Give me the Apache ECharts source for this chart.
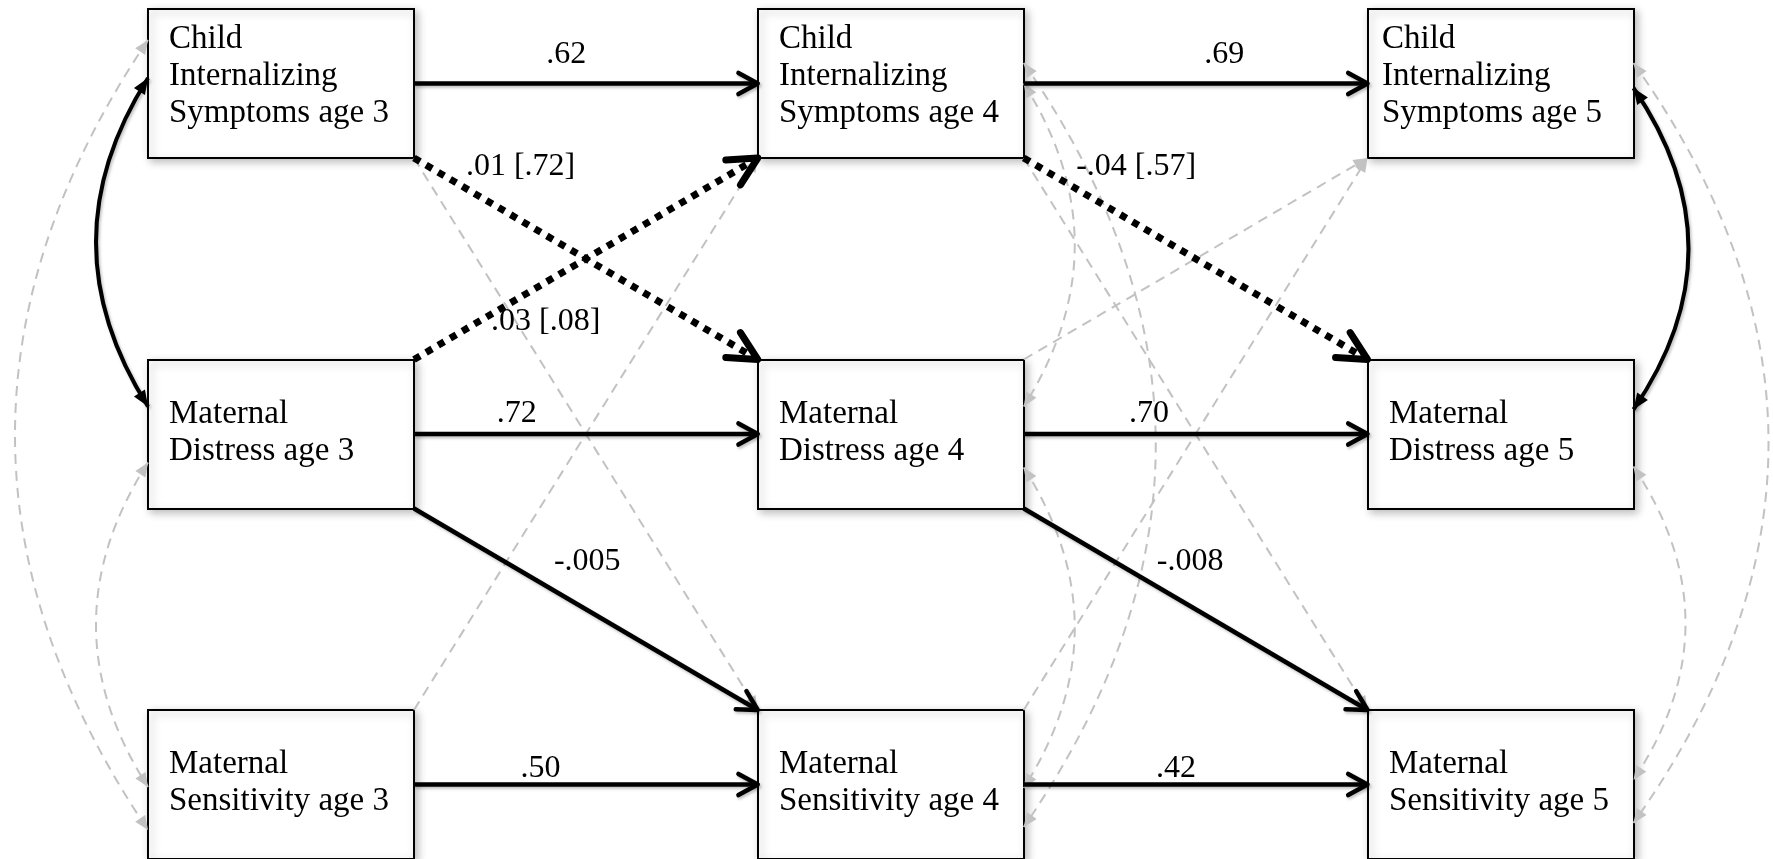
<!DOCTYPE html>
<html>
<head>
<meta charset="utf-8">
<script src="https://cdn.jsdelivr.net/npm/echarts@6/dist/echarts.min.js"></script>
<style>
html,body{margin:0;padding:0;background:#fff;}
#chart{width:1773px;height:859px;}
</style>
</head>
<body>
<div id="chart"></div>
<script>
// ================= DATA =================
const ages = [3, 4, 5];
const constructKeys = ['C', 'M', 'S'];
const constructLines = [
  ['Child', 'Internalizing', 'Symptoms age {age}'],
  ['Maternal', 'Distress age {age}'],
  ['Maternal', 'Sensitivity age {age}']
];
// directed paths
const pathFrom = ['C3','C4','M3','M4','S3','S4','M3','M4','C3','M3','C4','C3','S3','M4','S4','C4'];
const pathTo   = ['C4','C5','M4','M5','S4','S5','S4','S5','M4','C4','M5','S4','C4','C5','C5','S5'];
const pathCoef = ['.62','.69','.72','.70','.50','.42','-.005','-.008','.01 [.72]','.03 [.08]','-.04 [.57]','','','','',''];
const pathKind = ['sig','sig','sig','sig','sig','sig','sig','sig','trend','trend','trend','ns','ns','ns','ns','ns'];
// within-time covariances (double-headed)
const covA    = ['C3','C3','M3','C4','C4','M4','C5','C5','M5'];
const covB    = ['M3','S3','S3','M4','S4','S4','M5','S5','S5'];
const covKind = ['sig','ns','ns','ns','ns','ns','sig','ns','ns'];

// ================= LAYOUT / STYLE =================
const BOX_W = 266, BOX_H = 149;
const TEXT_INSET = 21;
const textInsetOverride = { C5: 14 };
// label placement along each path: [fraction along path, vertical offset px]
const pathLabelAt = [[0.443,-29],[0.583,-29],[0.299,-20],[0.364,-20],[0.368,-16],[0.443,-16],
  [0.504,-48],[0.484,-44],[0.31,-54],[0.383,39],[0.327,-57],null,null,null,null,null];
// covariance curve shape: [attach offset at A, attach offset at B, bulge px]
const covShape = [[-5.5,-27.5,52],[-43.5,45.5,133],[28.5,2.5,52],
                  [0,-27.5,51],[-20.5,42.5,132],[33.5,3.5,51],
                  [4.5,-24.5,55],[-20.5,38.5,135],[32.5,-4.5,52]];
const FONT_NODE = '33px "Liberation Serif", "DejaVu Serif", serif';
const FONT_LABEL = '32px "Liberation Serif", "DejaVu Serif", serif';
const GRAY = '#c2c2c2';

function parseId(id) {
  return [ages.indexOf(+id.slice(1)), constructKeys.indexOf(id[0])];
}

// node data: [ageIndex, constructIndex]
const nodeData = [];
const nodeIds = [];
constructKeys.forEach((k, r) => ages.forEach((a, c) => { nodeData.push([c, r]); nodeIds.push(k + a); }));

const pathData = pathFrom.map((f, i) => { const a = parseId(f), b = parseId(pathTo[i]); return [a[0], a[1], b[0], b[1]]; });
const covData = covA.map((f, i) => { const a = parseId(f), b = parseId(covB[i]); return [a[0], a[1], b[0], b[1]]; });

function unit(dx, dy) { const l = Math.hypot(dx, dy) || 1; return [dx / l, dy / l]; }
function openHead(tip, dir, len, ang) {
  const bx = -dir[0], by = -dir[1];
  const c = Math.cos(ang), s = Math.sin(ang);
  return [
    [tip[0] + len * (bx * c - by * s), tip[1] + len * (bx * s + by * c)],
    tip,
    [tip[0] + len * (bx * c + by * s), tip[1] + len * (-bx * s + by * c)]
  ];
}
function filledHead(tip, dir, len, half) {
  const base = [tip[0] - dir[0] * len, tip[1] - dir[1] * len];
  const n = [-dir[1], dir[0]];
  return [tip, [base[0] + n[0] * half, base[1] + n[1] * half], [base[0] - n[0] * half, base[1] - n[1] * half]];
}

function renderNode(params, api) {
  const i = params.dataIndex;
  const c = api.coord([api.value(0), api.value(1)]);
  const r = api.value(1);
  const lines = constructLines[r].map(s => s.replace('{age}', ages[api.value(0)]));
  const x0 = Math.round(c[0] - BOX_W / 2), y0 = Math.round(c[1] - BOX_H / 2);
  const inset = textInsetOverride[nodeIds[i]] != null ? textInsetOverride[nodeIds[i]] : TEXT_INSET;
  return {
    type: 'group',
    children: [
      { type: 'rect', shape: { x: x0, y: y0, width: BOX_W, height: BOX_H },
        style: { fill: '#fff', stroke: '#000', lineWidth: 2,
                 shadowBlur: 8, shadowOffsetX: 3, shadowOffsetY: 3, shadowColor: 'rgba(0,0,0,0.25)' } },
      { type: 'text', z2: 2,
        style: { text: lines.join('\n'), x: x0 + inset, y: c[1] + (lines.length === 3 ? -7 : -1.5),
                 align: 'left', verticalAlign: 'middle', font: FONT_NODE, lineHeight: 37, fill: '#000' } }
    ]
  };
}

function renderPath(params, api) {
  const i = params.dataIndex;
  const kind = pathKind[i];
  const a = api.coord([api.value(0), api.value(1)]);
  const b = api.coord([api.value(2), api.value(3)]);
  const hw = BOX_W / 2, hh = BOX_H / 2;
  let p0, p1;
  if (api.value(1) === api.value(3)) {
    p0 = [a[0] + hw, a[1]]; p1 = [b[0] - hw, b[1]];
  } else {
    const s = api.value(3) > api.value(1) ? 1 : -1;
    p0 = [a[0] + hw, a[1] + s * hh]; p1 = [b[0] - hw, b[1] - s * hh];
  }
  const dir = unit(p1[0] - p0[0], p1[1] - p0[1]);
  const children = [];
  if (kind === 'ns') {
    const end = [p1[0] - dir[0] * 8, p1[1] - dir[1] * 8];
    children.push({ type: 'line', z2: 0, shape: { x1: p0[0], y1: p0[1], x2: end[0], y2: end[1] },
      style: { stroke: GRAY, lineWidth: 2, lineDash: [10, 7] } });
    children.push({ type: 'polygon', z2: 0, shape: { points: filledHead(p1, dir, 14, 6) }, style: { fill: GRAY } });
  } else if (kind === 'sig') {
    const end = [p1[0] - dir[0] * 2, p1[1] - dir[1] * 2];
    const sh = { shadowBlur: 3, shadowOffsetX: 1.5, shadowOffsetY: 2, shadowColor: 'rgba(0,0,0,0.25)' };
    children.push({ type: 'line', z2: 5, shape: { x1: p0[0], y1: p0[1], x2: end[0], y2: end[1] },
      style: Object.assign({ stroke: '#000', lineWidth: 4.5 }, sh) });
    children.push({ type: 'polyline', z2: 5, shape: { points: openHead(p1, dir, 22, 0.5) },
      style: Object.assign({ stroke: '#000', lineWidth: 4.5, fill: null, lineCap: 'round', lineJoin: 'round' }, sh) });
  } else {
    const end = [p1[0] - dir[0] * 3, p1[1] - dir[1] * 3];
    children.push({ type: 'line', z2: 5, shape: { x1: p0[0], y1: p0[1], x2: end[0], y2: end[1] },
      style: { stroke: '#000', lineWidth: 7, lineDash: [7, 7], lineCap: 'butt' } });
    children.push({ type: 'polyline', z2: 5, shape: { points: openHead(p1, dir, 32, 0.47) },
      style: { stroke: '#000', lineWidth: 7, fill: null, lineCap: 'round', lineJoin: 'round' } });
  }
  const lab = pathLabelAt[i];
  if (pathCoef[i] && lab) {
    children.push({ type: 'text', z2: 6,
      style: { text: pathCoef[i], x: p0[0] + (p1[0] - p0[0]) * lab[0], y: p0[1] + (p1[1] - p0[1]) * lab[0] + lab[1],
               align: 'center', verticalAlign: 'middle', font: FONT_LABEL, fill: '#000' } });
  }
  return { type: 'group', children };
}

function renderCov(params, api) {
  const i = params.dataIndex;
  const kind = covKind[i];
  const a = api.coord([api.value(0), api.value(1)]);
  const b = api.coord([api.value(2), api.value(3)]);
  const side = api.value(0) === 0 ? -1 : 1;
  const sh = covShape[i];
  const x = a[0] + side * BOX_W / 2;
  const pA = [x, a[1] + sh[0]], pB = [x, b[1] + sh[1]];
  const cp = [x + side * 2 * sh[2], (pA[1] + pB[1]) / 2];
  const dA = unit(pA[0] - cp[0], pA[1] - cp[1]);
  const dB = unit(pB[0] - cp[0], pB[1] - cp[1]);
  const black = kind === 'sig';
  const col = black ? '#000' : GRAY;
  const hl = black ? 16 : 14, hh = black ? 6.5 : 6;
  return {
    type: 'group',
    children: [
      { type: 'bezierCurve', z2: black ? 5 : 0,
        shape: { x1: pA[0], y1: pA[1], x2: pB[0], y2: pB[1], cpx1: cp[0], cpy1: cp[1] },
        style: black ? { stroke: col, lineWidth: 4, fill: null, shadowBlur: 3, shadowOffsetX: 1.5, shadowOffsetY: 2, shadowColor: 'rgba(0,0,0,0.25)' }
                     : { stroke: col, lineWidth: 2, lineDash: [10, 7], fill: null } },
      { type: 'polygon', z2: black ? 5 : 0, shape: { points: filledHead(pA, dA, hl, hh) }, style: { fill: col } },
      { type: 'polygon', z2: black ? 5 : 0, shape: { points: filledHead(pB, dB, hl, hh) }, style: { fill: col } }
    ]
  };
}

const chart = echarts.init(document.getElementById('chart'), null, { renderer: 'canvas' });
chart.setOption({
  backgroundColor: '#fff',
  animation: false,
  grid: { left: 281, right: 272.5, top: 83.5, bottom: 74.5 },
  xAxis: { type: 'value', min: 0, max: 2, show: false },
  yAxis: { type: 'value', min: 0, max: 2, inverse: true, show: false },
  series: [
    { type: 'custom', name: 'nodes', z: 1, clip: false, renderItem: renderNode, data: nodeData, encode: { x: 0, y: 1 } },
    { type: 'custom', name: 'covariances', z: 2, clip: false, renderItem: renderCov, data: covData, encode: { x: 0, y: 1 } },
    { type: 'custom', name: 'paths', z: 3, clip: false, renderItem: renderPath, data: pathData, encode: { x: 0, y: 1 } }
  ]
});
</script>
</body>
</html>
